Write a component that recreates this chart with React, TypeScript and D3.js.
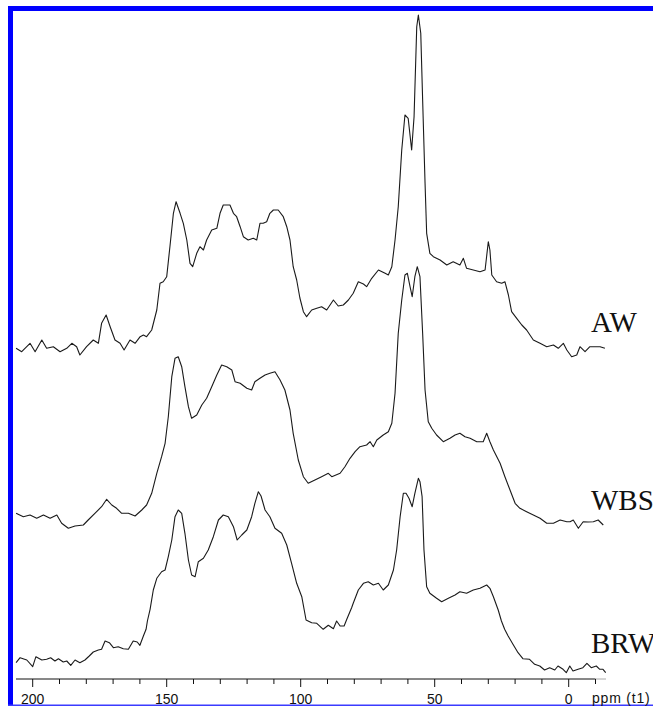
import React from 'react';
import * as d3 from 'd3';

// 13C CP/MAS spectra, chemical shift (ppm) vs. intensity (arbitrary units)
const awPpm = [206.2, 204.1, 201.0, 199.1, 196.6, 194.8, 192.3, 189.8, 187.3, 185.4, 183.6, 182.4, 179.9, 177.4, 175.5, 174.3, 172.6, 171.1, 169.3, 167.4, 165.9, 163.7, 161.8, 159.9, 158.7, 157.5, 155.6, 153.7, 152.5, 151.3, 150.0, 148.8, 147.5, 146.5, 145.0, 143.8, 142.5, 141.3, 140.3, 138.8, 137.6, 136.3, 135.1, 133.2, 131.3, 130.1, 128.9, 126.4, 125.1, 123.9, 122.6, 121.4, 119.6, 117.7, 116.4, 115.2, 114.0, 112.7, 111.5, 110.2, 108.4, 106.5, 105.2, 104.0, 102.8, 101.5, 100.3, 99.0, 97.8, 95.9, 94.0, 92.2, 90.3, 87.8, 86.0, 84.1, 82.2, 80.4, 78.5, 76.6, 75.4, 73.5, 71.0, 68.5, 67.3, 66.0, 64.8, 63.6, 62.3, 61.1, 59.9, 58.6, 57.7, 56.7, 56.1, 55.2, 54.5, 53.6, 53.0, 51.8, 50.5, 48.0, 45.5, 43.1, 40.6, 39.3, 38.1, 35.6, 33.1, 31.2, 30.0, 29.4, 28.7, 26.9, 25.0, 23.8, 22.5, 21.3, 19.4, 17.5, 15.7, 13.2, 10.7, 8.2, 5.7, 3.9, 2.0, 0.7, -1.1, -3.0, -4.2, -6.1, -7.9, -9.8, -11.7, -13.5];
const awInt = [11.7, 8.3, 16.7, 8.3, 20, 11.7, 13.3, 8.3, 11.7, 16.7, 13.3, 5, 13.3, 20, 16.7, 36.7, 45, 33.3, 20, 16.7, 10, 20, 16.7, 23.3, 25, 23.3, 30, 50, 76.7, 78.3, 83.3, 113.3, 146.7, 158.3, 146.7, 136.7, 120, 96.7, 93.3, 106.7, 113.3, 110, 120, 130, 131.7, 146.7, 155, 155, 146.7, 143.3, 133.3, 123.3, 120, 121.7, 120, 136.7, 136.7, 138.3, 146.7, 150, 150, 143.3, 133.3, 120, 93.3, 80, 62, 48.3, 43.3, 50, 51.7, 53.3, 50, 60, 54, 55, 60, 66.7, 78.3, 76, 73.3, 81.7, 90, 86.7, 85, 93.3, 120, 153.3, 210, 245, 241.7, 210, 243.3, 333.3, 345, 326.7, 260, 176.7, 126.7, 106.7, 103.3, 100, 95, 98.3, 95, 101.7, 91.7, 90, 88.3, 90, 118.3, 110, 85, 78.3, 76.7, 78.3, 65, 48.3, 41.7, 35, 30, 20, 16.7, 13.3, 15, 11.7, 16.7, 10, 3.3, 5, 13.3, 8.3, 13.3, 13.3, 13.3, 11.7];

const wbsPpm = [206.2, 203.5, 201.0, 198.5, 196.0, 193.5, 191.0, 189.2, 186.7, 184.2, 181.1, 179.3, 176.8, 174.3, 172.4, 170.5, 168.7, 166.8, 164.3, 161.8, 159.3, 157.5, 155.6, 153.7, 151.9, 150.6, 149.4, 148.1, 146.9, 145.7, 144.4, 143.2, 141.9, 140.7, 138.8, 136.9, 135.1, 133.2, 131.3, 129.5, 127.6, 125.7, 124.5, 122.6, 120.1, 118.3, 117.1, 115.2, 113.3, 111.5, 109.6, 107.7, 105.9, 104.0, 102.8, 100.9, 99.0, 97.2, 94.7, 92.2, 89.7, 88.4, 85.3, 83.5, 81.6, 79.7, 77.9, 75.4, 74.1, 72.9, 71.6, 69.2, 67.3, 66.0, 64.8, 63.6, 62.3, 61.1, 60.2, 59.2, 58.4, 57.4, 56.5, 55.5, 54.5, 53.6, 52.4, 51.1, 49.3, 46.8, 44.3, 42.4, 40.6, 38.7, 36.8, 34.3, 31.9, 30.6, 29.4, 28.1, 25.6, 23.8, 21.9, 20.0, 18.2, 15.7, 13.2, 10.7, 8.2, 5.7, 3.2, 0.7, -0.5, -1.7, -3.6, -5.4, -7.2, -9.2, -11.0, -12.9];
const wbsInt = [21.7, 18.3, 20, 16.7, 20, 16.7, 20, 11.7, 6.7, 9, 10, 15, 21.7, 28.3, 35.7, 30, 26.7, 21.7, 21.7, 19, 25, 30, 41.7, 61.7, 78.3, 91.7, 118.3, 158.3, 176.7, 178.3, 168.3, 148.3, 128.3, 116.7, 120, 130, 136.7, 148.3, 160, 170, 168.3, 165, 153.3, 151.7, 146.7, 145, 153.3, 156.7, 160, 161.7, 163.3, 155, 145, 125, 101.7, 75, 58.3, 51.7, 55, 58.3, 61.7, 58.3, 61.7, 68.3, 76.7, 83.3, 88.3, 90, 93.3, 88.3, 95, 100, 103.3, 111.7, 141.7, 201.7, 235, 260, 261.7, 248.3, 238.3, 258.3, 268.3, 258.3, 201.7, 145, 113.3, 106.7, 100, 93.3, 96.7, 100, 101.7, 98.3, 96.7, 93.3, 93.3, 101.7, 93.3, 85, 71.7, 58.3, 45, 31.7, 26.7, 23.3, 20, 16.7, 11.7, 11.7, 15, 13.3, 13.3, 15, 6.7, 13.3, 13, 13.3, 15, 10];

const brwPpm = [206.2, 204.7, 202.2, 200.0, 198.8, 196.6, 194.8, 193.3, 191.7, 190.4, 188.6, 187.3, 185.8, 184.2, 182.4, 180.5, 178.9, 177.4, 175.5, 174.3, 173.0, 171.4, 169.9, 168.1, 166.2, 164.3, 162.5, 161.0, 160.0, 158.7, 157.7, 157.2, 156.2, 155.0, 153.7, 151.9, 150.6, 149.4, 148.1, 146.9, 145.7, 144.4, 143.2, 141.9, 140.7, 139.4, 138.2, 136.3, 134.5, 132.6, 130.7, 128.9, 127.0, 125.1, 123.7, 122.0, 120.1, 118.3, 117.1, 115.8, 114.8, 113.3, 111.5, 109.6, 107.1, 105.2, 103.4, 101.5, 99.6, 98.0, 95.9, 94.0, 91.6, 89.7, 87.8, 86.6, 85.3, 83.8, 82.8, 81.0, 80.4, 78.5, 76.6, 74.8, 72.9, 71.0, 69.2, 67.3, 65.4, 64.2, 62.9, 61.7, 60.7, 59.6, 58.4, 57.4, 56.1, 55.5, 54.7, 54.0, 53.0, 51.8, 49.3, 47.4, 44.9, 42.4, 40.6, 38.1, 35.6, 33.1, 30.6, 29.4, 28.1, 26.3, 25.1, 23.9, 22.6, 20.8, 18.9, 17.1, 14.6, 12.7, 10.8, 9.0, 7.1, 5.2, 4.0, 2.1, 0.9, -0.4, -1.6, -3.5, -5.3, -6.8, -8.4, -10.3, -11.6, -12.8, -13.8];
const brwInt = [12.3, 17.3, 15, 8.3, 18.3, 15, 15.7, 17.3, 14, 16.3, 13, 14, 9.7, 15, 12.3, 15, 19, 23, 25, 25.7, 34, 32.3, 27.3, 28.3, 26.3, 25.7, 34, 33, 29.7, 39, 45.7, 54, 65.7, 85, 96.7, 103.3, 105, 118.3, 135, 158.3, 165, 161.7, 141.7, 115, 100, 98.3, 113.3, 116.7, 125, 138.3, 155, 160, 158.3, 148.3, 135, 140, 145, 158.3, 171.7, 183.3, 179, 165, 158.3, 146.7, 141.7, 130, 111.7, 91.7, 78.3, 55, 52.3, 51.7, 45.7, 49.7, 46.3, 54, 49, 49, 55.7, 67.3, 71.7, 85, 91.7, 93.3, 90, 91.7, 85, 90, 105, 125, 158.3, 181.7, 181.7, 176.7, 168.3, 181.7, 196.7, 193.3, 178.3, 125, 88.3, 81.7, 76.7, 73.3, 76.7, 80, 83.3, 81.7, 85, 86.7, 90, 86.7, 78.3, 65, 54, 45.7, 39, 30.7, 22.3, 16.3, 15.7, 10.7, 9, 5, 7.3, 5, 9, 5.7, 2.3, 9, 4, 5.7, 7.3, 11.7, 7.3, 9, 5.7, 5.7, 2.3];

const sampleNames = ['AW', 'WBS', 'BRW'];
const labelTicks = [200, 150, 100, 50, 0];

export default function App() {
  const width = 653;
  const height = 706;
  const axisY = 679;

  const x = d3.scaleLinear().domain([200, 0]).range([32.7, 568.7]);
  // intensity -> pixels above each trace's own zero level
  const y = d3.scaleLinear().domain([0, 100]).range([0, -100]);
  const offsets = [360, 535, 675];
  const labelBaselines = [332, 510, 653];

  const series = [
    { ppm: awPpm, vals: awInt },
    { ppm: wbsPpm, vals: wbsInt },
    { ppm: brwPpm, vals: brwInt },
  ];

  const line = d3.line<[number, number]>()
    .x(d => x(d[0]))
    .y(d => y(d[1]));

  const ticks = d3.range(-10, 201, 10);

  return (
    <svg
      width={width}
      height={height}
      style={{ position: 'absolute', left: 0, top: 0, background: '#fff' }}
    >
      <rect x={0} y={0} width={width} height={height} fill="#fff" />

      {/* frame */}
      <rect x={8} y={6} width={width - 8} height={5} fill="#0000ff" />
      <rect x={8} y={6} width={5} height={height - 6} fill="#0000ff" />
      <rect x={8} y={704.5} width={width - 8} height={1.5} fill="#3b3bff" />

      {series.map((s, i) => (
        <g key={sampleNames[i]} transform={`translate(0, ${offsets[i]})`}>
          <path
            d={line(s.ppm.map((p, j) => [p, s.vals[j]] as [number, number])) || ''}
            fill="none"
            stroke="#1a1a1a"
            strokeWidth={1.1}
            strokeLinejoin="round"
          />
        </g>
      ))}

      {sampleNames.map((name, i) => (
        <text
          key={name}
          x={591}
          y={labelBaselines[i]}
          fontFamily="'Liberation Serif', 'Times New Roman', serif"
          fontSize={29}
          fill="#111"
        >
          {name}
        </text>
      ))}

      {/* ppm axis */}
      <line x1={16} x2={x(-10)} y1={axisY} y2={axisY} stroke="#111" strokeWidth={1} />
      <line x1={x(-10)} x2={606} y1={axisY} y2={axisY} stroke="#aaa" strokeWidth={1} />
      {ticks.map(t => (
        <line
          key={t}
          x1={x(t)}
          x2={x(t)}
          y1={axisY}
          y2={axisY + (labelTicks.includes(t) ? 8 : 5)}
          stroke="#111"
          strokeWidth={1}
        />
      ))}
      {labelTicks.map(t => (
        <text
          key={t}
          x={x(t)}
          y={704}
          textAnchor="middle"
          fontFamily="'Liberation Sans', Arial, sans-serif"
          fontSize={14}
          fill="#111"
        >
          {t}
        </text>
      ))}
      <text
        x={592}
        y={703}
        fontFamily="'Liberation Sans', Arial, sans-serif"
        fontSize={14}
        letterSpacing={0.8}
        fill="#111"
      >
        ppm (t1)
      </text>
    </svg>
  );
}
